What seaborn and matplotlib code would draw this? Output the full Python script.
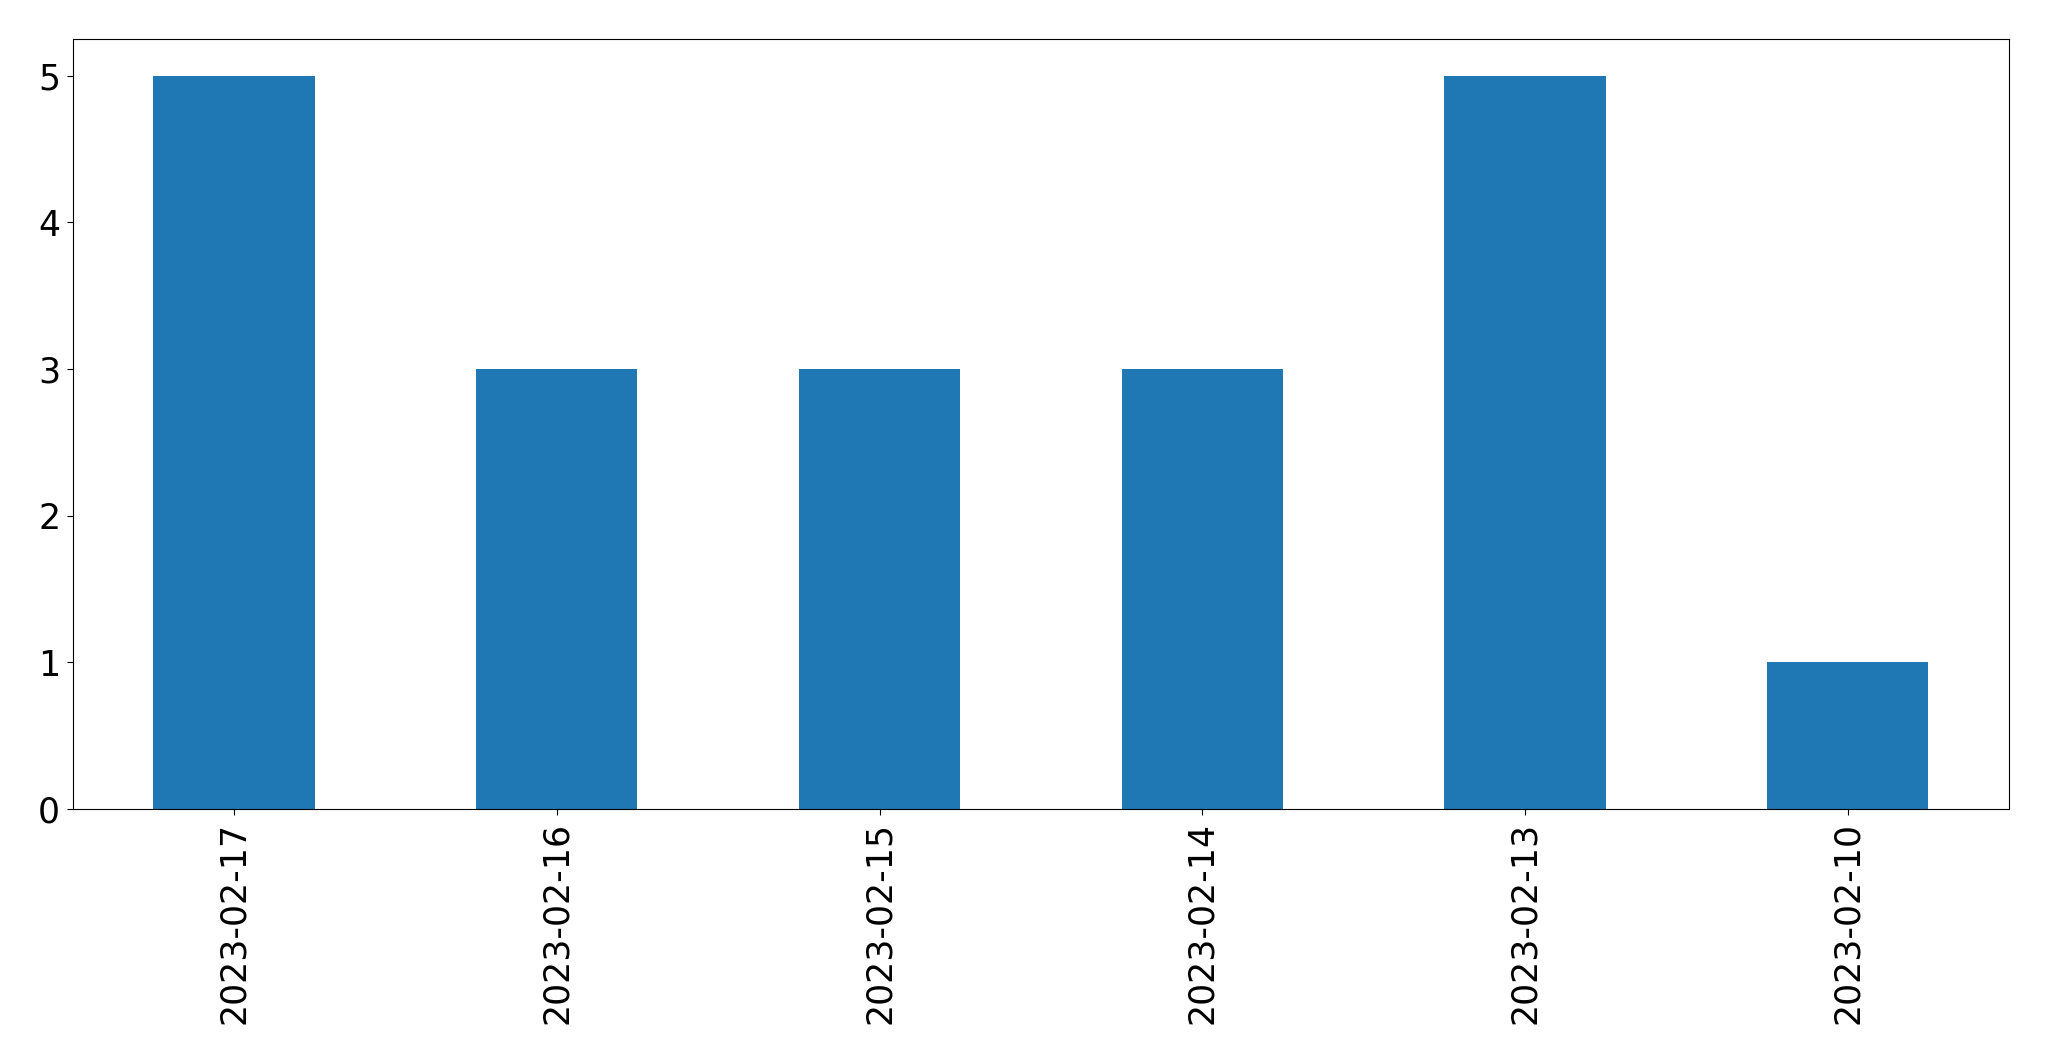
"""
Bar chart of counts per date
"""
import pandas as pd
import matplotlib
matplotlib.use('Agg')
import matplotlib.pyplot as plt
import seaborn as sns

dates = ['2023-02-17', '2023-02-16', '2023-02-15', '2023-02-14', '2023-02-13', '2023-02-10']
counts = [5, 3, 3, 3, 5, 1]


def main():
    df = pd.DataFrame({'date': dates, 'count': counts})

    fig = plt.figure(figsize=(20.49, 10.61), dpi=100)
    ax = fig.add_axes([0.0355, 0.2375, 0.945, 0.7257])

    sns.barplot(data=df, x='date', y='count', order=dates, color='#1f77b4',
                saturation=1, width=0.5, ax=ax)

    ax.set_xlim(-0.5, len(dates) - 0.5)
    ax.set_ylim(0, max(counts) * 1.05)
    ax.set_xlabel('')
    ax.set_ylabel('')
    ax.tick_params(axis='both', labelsize=25, length=4.5, pad=4.5)
    ax.tick_params(axis='x', rotation=90)

    fig.savefig('out.png', dpi=100)
    plt.close(fig)


if __name__ == "__main__":
    main()
